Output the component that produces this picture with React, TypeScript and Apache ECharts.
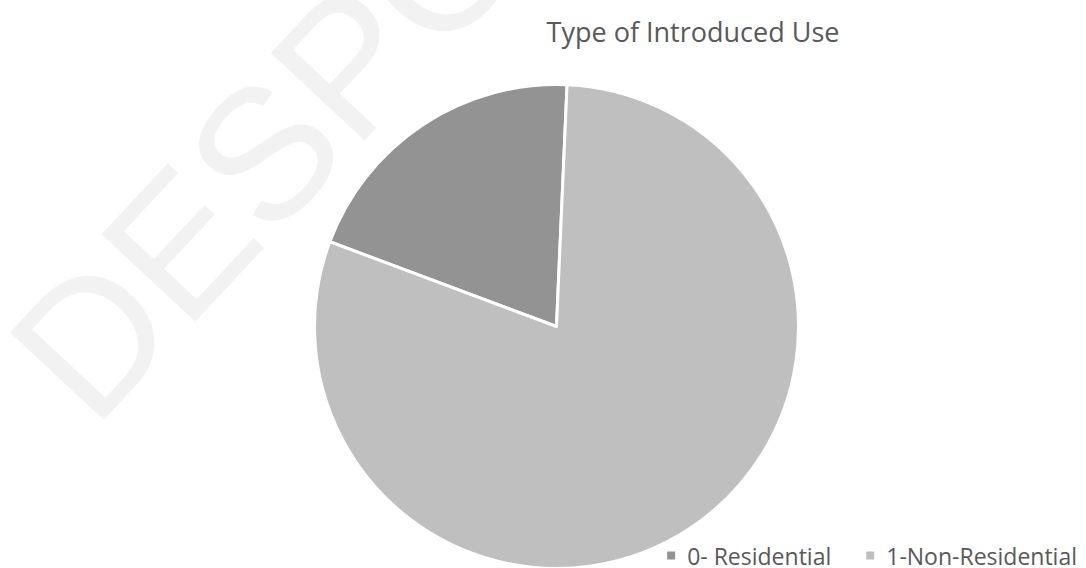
import React, { useEffect, useRef } from "react";
import * as echarts from "echarts";

const categories = ["0- Residential", "1-Non-Residential"];
const values = [20, 80];
const colors = ["#939393", "#bfbfbf"];
const titleText = "Type of Introduced Use";
const watermark = "DESPO";

export default function App() {
  const ref = useRef<HTMLDivElement>(null);
  useEffect(() => {
    if (!ref.current) return;
    const chart = echarts.init(ref.current, null, { renderer: "svg" });
    const rot = (47 * Math.PI) / 180;
    chart.setOption({
      animation: false,
      backgroundColor: "#ffffff",
      title: {
        text: titleText,
        left: 688,
        top: 11,
        textAlign: "center",
        textStyle: {
          fontFamily: "Open Sans",
          fontSize: 27,
          lineHeight: 30,
          fontWeight: "normal",
          color: "#595959",
        },
      },
      legend: {
        right: 4,
        top: 539,
        itemWidth: 10,
        itemHeight: 10,
        itemGap: 33,
        icon: "rect",
        textStyle: {
          fontFamily: "Open Sans",
          fontSize: 23,
          lineHeight: 23,
          color: "#595959",
          padding: [0, 0, 0, 6],
        },
        data: categories,
      },
      graphic: [
        {
          type: "text",
          x: 46,
          y: 387,
          rotation: rot,
          z: -10,
          silent: true,
          style: {
            text: watermark,
            fontFamily: "Liberation Sans",
            fontSize: 186,
            fill: "#f2f2f2",
            textAlign: "left",
            textVerticalAlign: "middle",
          },
        },
      ],
      series: [
        {
          type: "pie",
          center: [556.5, 326.5],
          radius: 242,
          startAngle: 159.5,
          clockwise: true,
          label: { show: false },
          labelLine: { show: false },
          itemStyle: { borderColor: "#ffffff", borderWidth: 3 },
          data: categories.map((name, i) => ({
            name,
            value: values[i],
            itemStyle: { color: colors[i] },
          })),
        },
      ],
    });
    return () => chart.dispose();
  }, []);
  return (
    <div
      ref={ref}
      style={{ position: "absolute", left: 0, top: 0, width: 1086, height: 568 }}
    />
  );
}
